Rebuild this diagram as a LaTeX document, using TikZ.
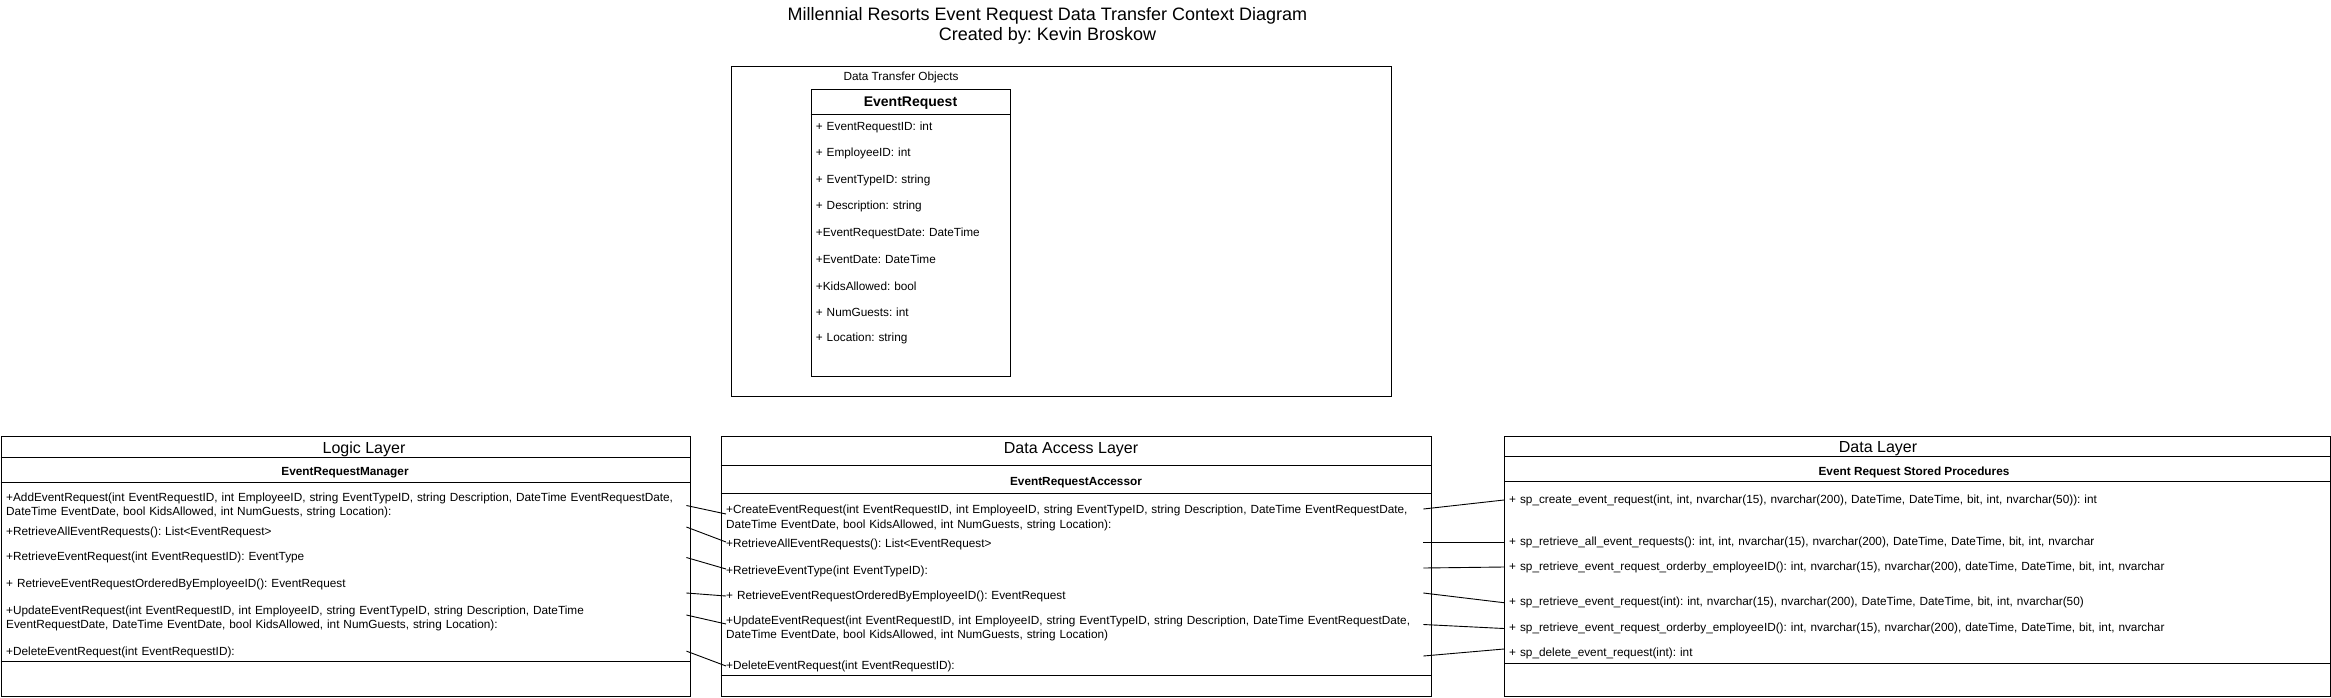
\documentclass[tikz,border=0pt]{standalone}
\usepackage{fontspec}
\setmainfont{Liberation Sans}
\usetikzlibrary{positioning}
\frenchspacing
\newcommand{\methodfont}{\fontsize{11.8}{14.5}\selectfont}
\newcommand{\layerfont}{\fontsize{16}{19}\selectfont}
\newcommand{\headfont}{\fontsize{18}{19.5}\selectfont}

\begin{document}
\begin{tikzpicture}[
  x=1pt, y=-1pt,
  every node/.style={inner sep=0pt, font=\methodfont},
  frame/.style={draw=black, line width=1pt, anchor=north west},
  sep/.style={line width=1pt},
  lrow/.style={anchor=west, align=left, text width=680pt},
  drow/.style={anchor=west, align=left, text width=697pt},
  srow/.style={anchor=west, align=left, text width=800pt},
  attr/.style={align=left, text width=185pt, inner xsep=5pt, minimum height=26pt},
  link/.style={draw=black, line width=0.9pt}
]
\useasboundingbox (0,0) rectangle (2331,697);

\node[font=\headfont, align=center] (title) at (1047.5,26) {Millennial Resorts Event Request Data Transfer Context Diagram\\Created by: Kevin Broskow};

\node[frame, minimum width=660pt, minimum height=330.3pt] (dto) at (730.7,66) {};
\node (dtolabel) at (901,77) {Data Transfer Objects};
\node[frame, minimum width=199.6pt, minimum height=287.3pt] (er) at (810.7,88.7) {};
\draw[sep] (810.7,114.3) -- (1010.3,114.3);
\node[font=\fontsize{14}{16}\selectfont\bfseries] (erhead) at (910.5,103.5) {EventRequest};
\node[attr, anchor=north west] (a1) at (810.7,114.3) {+ EventRequestID: int};
\node[attr, below=0pt of a1] (a2) {+ EmployeeID: int};
\node[attr, below=0pt of a2] (a3) {+ EventTypeID: string};
\node[attr, below=0pt of a3] (a4) {+ Description: string};
\node[attr, below=0pt of a4] (a5) {+EventRequestDate: DateTime};
\node[attr, below=0pt of a5] (a6) {+EventDate: DateTime};
\node[attr, below=0pt of a6] (a7) {+KidsAllowed: bool};
\node[attr, below=0pt of a7] (a8) {+ NumGuests: int};
\node[attr, below=0pt of a8] (a9) {+ Location: string};

\node[frame, minimum width=689.7pt, minimum height=259.5pt] (logic) at (0.6,436) {};
\draw[sep] (0.6,457) -- (690.3,457);
\draw[sep] (0.6,482) -- (690.3,482);
\draw[sep] (0.6,661.7) -- (690.3,661.7);
\node[font=\layerfont] (logictitle) at (364,449) {Logic Layer};
\node[font=\methodfont\bfseries] (manager) at (345,473) {EventRequestManager};
\node[lrow] (l1) at (6,505.5) {+AddEventRequest(int EventRequestID, int EmployeeID, string EventTypeID, string Description, DateTime EventRequestDate,\\DateTime EventDate, bool KidsAllowed, int NumGuests, string Location):};
\node[lrow] (l2) at (6,532) {+RetrieveAllEventRequests(): List<EventRequest>};
\node[lrow] (l3) at (6,557.5) {+RetrieveEventRequest(int EventRequestID): EventType};
\node[lrow] (l4) at (6,584) {+ RetrieveEventRequestOrderedByEmployeeID(): EventRequest};
\node[lrow] (l5) at (6,618.5) {+UpdateEventRequest(int EventRequestID, int EmployeeID, string EventTypeID, string Description, DateTime\\EventRequestDate, DateTime EventDate, bool KidsAllowed, int NumGuests, string Location):};
\node[lrow] (l6) at (6,652.6) {+DeleteEventRequest(int EventRequestID):};

\node[frame, minimum width=710pt, minimum height=259.5pt] (dal) at (720.7,436) {};
\draw[sep] (720.7,465) -- (1430.7,465);
\draw[sep] (720.7,493) -- (1430.7,493);
\draw[sep] (720.7,675.3) -- (1430.7,675.3);
\node[font=\layerfont] (daltitle) at (1071,450) {Data Access Layer};
\node[font=\methodfont\bfseries] (accessor) at (1076,483) {EventRequestAccessor};
\node[drow] (d1) at (726,518) {+CreateEventRequest(int EventRequestID, int EmployeeID, string EventTypeID, string Description, DateTime EventRequestDate,\\DateTime EventDate, bool KidsAllowed, int NumGuests, string Location):};
\node[drow] (d2) at (726,544) {+RetrieveAllEventRequests(): List<EventRequest>};
\node[drow] (d3) at (726,571) {+RetrieveEventType(int EventTypeID):};
\node[drow] (d4) at (726,596) {+ RetrieveEventRequestOrderedByEmployeeID(): EventRequest};
\node[drow] (d5) at (726,628.5) {+UpdateEventRequest(int EventRequestID, int EmployeeID, string EventTypeID, string Description, DateTime EventRequestDate,\\DateTime EventDate, bool KidsAllowed, int NumGuests, string Location)};
\node[drow] (d6) at (726,666) {+DeleteEventRequest(int EventRequestID):};

\node[frame, minimum width=826.3pt, minimum height=259.5pt] (store) at (1504,436) {};
\draw[sep] (1504,456) -- (2330.3,456);
\draw[sep] (1504,481) -- (2330.3,481);
\draw[sep] (1504,663) -- (2330.3,663);
\node[font=\layerfont] (storetitle) at (1878,449) {Data Layer};
\node[font=\methodfont\bfseries] (procs) at (1914,472) {Event Request Stored Procedures};
\node[srow] (s1) at (1509,500) {+ sp\_create\_event\_request(int, int, nvarchar(15), nvarchar(200), DateTime, DateTime, bit, int, nvarchar(50)): int};
\node[srow] (s2) at (1509,542) {+ sp\_retrieve\_all\_event\_requests(): int, int, nvarchar(15), nvarchar(200), DateTime, DateTime, bit, int, nvarchar};
\node[srow] (s3) at (1509,567) {+ sp\_retrieve\_event\_request\_orderby\_employeeID(): int, nvarchar(15), nvarchar(200), dateTime, DateTime, bit, int, nvarchar};
\node[srow] (s4) at (1509,602.7) {+ sp\_retrieve\_event\_request(int): int, nvarchar(15), nvarchar(200), DateTime, DateTime, bit, int, nvarchar(50)};
\node[srow] (s5) at (1509,628.5) {+ sp\_retrieve\_event\_request\_orderby\_employeeID(): int, nvarchar(15), nvarchar(200), dateTime, DateTime, bit, int, nvarchar};
\node[srow] (s6) at (1509,653) {+ sp\_delete\_event\_request(int): int};

\draw[link] (l1.east) -- ([yshift=4pt]d1.west);
\draw[link] ([yshift=5pt]l2.east) -- ([yshift=2pt]d2.west);
\draw[link] (l3.east) -- ([yshift=2pt]d3.west);
\draw[link] ([yshift=-9pt]l4.east) -- (d4.west);
\draw[link] ([yshift=3.5pt]l5.east) -- ([yshift=4.5pt]d5.west);
\draw[link] ([yshift=1.5pt]l6.east) -- (d6.west);
\draw[link] ([yshift=9pt]d1.east) -- ([xshift=-5pt]s1.west);
\draw[link] ([yshift=2pt]d2.east) -- ([xshift=-5pt]s2.west);
\draw[link] ([yshift=3pt]d3.east) -- ([xshift=-5pt]s3.west);
\draw[link] ([yshift=3pt]d4.east) -- ([xshift=-5pt]s4.west);
\draw[link] ([yshift=4pt]d5.east) -- ([xshift=-5pt]s5.west);
\draw[link] ([yshift=10pt]d6.east) -- ([shift={(-5pt,4pt)}]s6.west);
\end{tikzpicture}
\end{document}
